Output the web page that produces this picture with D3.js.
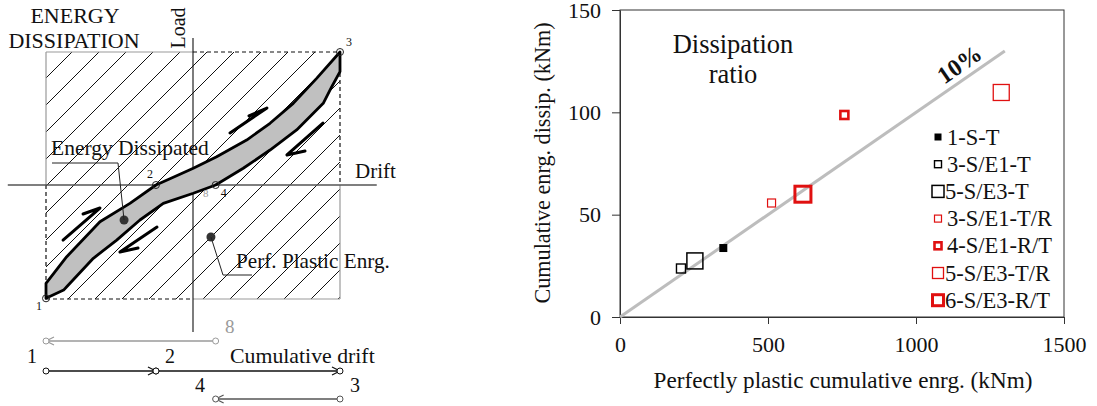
<!DOCTYPE html>
<html>
<head>
<meta charset="utf-8">
<script src="https://cdn.jsdelivr.net/npm/d3@7"></script>
<style>
  body { margin: 0; background: #fff; }
  svg text { font-family: "Liberation Serif", "Times New Roman", serif; fill: #111; }
</style>
</head>
<body>
<svg id="chart" width="1097" height="406"></svg>
<script>
// ---------- right chart: dissipated vs perfectly plastic energy ----------
const specimens = ["1-S-T", "3-S/E1-T", "5-S/E3-T", "3-S/E1-T/R", "4-S/E1-R/T", "5-S/E3-T/R", "6-S/E3-R/T"]
const plasticEnrg = [349, 206, 253, 512, 758, 1288, 618]
const dissipEnrg = [33.7, 23.7, 27.4, 55.7, 98.7, 109.7, 60]
const xTicks = [0, 500, 1000, 1500]
const yTicks = [0, 50, 100, 150]
const ratioLine = [[0, 0], [1300, 130]]   // 10% line

// ---------- left schematic: drift / load, normalised to the peaks ----------
const loadingBranch = [
  [-1, -0.852], [-1, -0.739], [-0.859, -0.539], [-0.633, -0.276], [-0.429, -0.138],
  [-0.252, 0], [-0.134, 0.058], [0.002, 0.126], [0.161, 0.213], [0.365, 0.338],
  [0.524, 0.464], [0.682, 0.614], [0.841, 0.802], [1, 1]
]
const unloadingBranch = [
  [1, 1], [1, 0.852], [0.944, 0.739], [0.886, 0.614], [0.705, 0.414], [0.524, 0.263],
  [0.342, 0.126], [0.154, 0], [0.002, -0.062], [-0.202, -0.138], [-0.361, -0.263],
  [-0.519, -0.414], [-0.678, -0.551], [-0.859, -0.765], [-0.88, -0.79], [-1, -0.852]
]
const peakDrift = [-1, 1]
const peakLoad = [-0.857, 1]
const loopPointNames = ["1", "2", "3", "4"]
const loopPointDrift = [-1, -0.252, 1, 0.154]
const loopPointLoad = [-0.852, 0, 1, 0]
// half-head arrows: tail, head, barb
const loopArrows = [
  [[0.252, 0.391], [0.503, 0.579], [0.381, 0.519]],
  [[0.884, 0.466], [0.639, 0.226], [0.762, 0.256]],
  [[-0.884, -0.414], [-0.633, -0.173], [-0.748, -0.218]],
  [[-0.245, -0.316], [-0.497, -0.504], [-0.374, -0.474]]
]
const dissipatedDot = [-0.469, -0.263]
const plasticDot = [0.122, -0.391]
// cumulative drift segments (from, to), one row each
const cumFrom = [0.154, -1, -0.252, 1]
const cumTo = [-1, -0.252, 1, 0.154]
const cumRow = [0, 1, 1, 2]

const svg = d3.select("#chart")

// ================= LEFT DIAGRAM =================
const xL = d3.scaleLinear().domain(peakDrift).range([46, 340])
const yL = d3.scaleLinear().domain(peakLoad).range([299, 52])

const defs = svg.append("defs")
defs.append("pattern").attr("id", "hatch")
    .attr("patternUnits", "userSpaceOnUse")
    .attr("x", 16).attr("y", 0).attr("width", 27).attr("height", 27)
  .append("path")
    .attr("d", "M0,27 L27,0 M-2,2 L2,-2 M25,29 L29,25")
    .attr("stroke", "#111").attr("stroke-width", 1)

const left = svg.append("g")

left.append("rect")
    .attr("x", xL(-1)).attr("y", yL(1))
    .attr("width", xL(1) - xL(-1)).attr("height", yL(-0.857) - yL(1))
    .attr("fill", "url(#hatch)")

// frame: solid grey parts, dashed projections of the peaks
const solid = [
  [[-1, 1], [0, 1]], [[-1, 1], [-1, 0]], [[1, 0], [1, -0.857]], [[0, -0.857], [1, -0.857]]
]
const dashed = [
  [[0, 1], [1, 1]], [[-1, 0], [-1, -0.857]], [[1, 1], [1, 0]], [[-1, -0.857], [0, -0.857]]
]
const lineL = d3.line().x(d => xL(d[0])).y(d => yL(d[1]))
left.selectAll(".solidEdge").data(solid).enter().append("path")
    .attr("d", lineL).attr("stroke", "#999").attr("stroke-width", 1.2).attr("fill", "none")
left.selectAll(".dashEdge").data(dashed).enter().append("path")
    .attr("d", lineL).attr("stroke", "#111").attr("stroke-width", 1.2)
    .attr("stroke-dasharray", "4,3").attr("fill", "none")

// axes of the schematic
left.append("path").attr("d", lineL([[-1.26, 0], [1.25, 0]]))
    .attr("stroke", "#555").attr("stroke-width", 1.3)
left.append("path").attr("d", lineL([[0, 1.105], [0, -1.105]]))
    .attr("stroke", "#111").attr("stroke-width", 1.1)

// hysteresis loop
const loop = loadingBranch.concat(unloadingBranch.slice(1))
left.append("path").attr("d", lineL(loop) + "Z")
    .attr("fill", "#c0c0c0").attr("stroke", "#000").attr("stroke-width", 2.8)
    .attr("stroke-linejoin", "round")

left.selectAll(".loopArrow").data(loopArrows).enter().append("path")
    .attr("d", lineL).attr("fill", "none").attr("stroke", "#000")
    .attr("stroke-width", 3).attr("stroke-linejoin", "round").attr("stroke-linecap", "round")

left.selectAll(".pt").data(loopPointNames).enter().append("circle")
    .attr("cx", (d, i) => xL(loopPointDrift[i])).attr("cy", (d, i) => yL(loopPointLoad[i]))
    .attr("r", 3.5).attr("fill", "none").attr("stroke", "#222").attr("stroke-width", 1)

const ptOffset = [[-10, 12], [-9, -7], [6, -6], [5, 12]]
left.selectAll(".ptLabel").data(loopPointNames).enter().append("text")
    .attr("x", (d, i) => xL(loopPointDrift[i]) + ptOffset[i][0])
    .attr("y", (d, i) => yL(loopPointLoad[i]) + ptOffset[i][1])
    .attr("font-size", 12).text(d => d)
left.append("text").attr("x", 203).attr("y", 197).attr("font-size", 11)
    .style("fill", "#999").text("8")

// annotations
left.append("circle").attr("cx", xL(dissipatedDot[0])).attr("cy", yL(dissipatedDot[1]))
    .attr("r", 4.5).attr("fill", "#333")
left.append("path")
    .attr("d", `M${xL(dissipatedDot[0])},${yL(dissipatedDot[1])} L118,163 L52,163`)
    .attr("fill", "none").attr("stroke", "#222").attr("stroke-width", 1)
left.append("text").attr("x", 51).attr("y", 155).attr("font-size", 21.5).text("Energy Dissipated")

left.append("circle").attr("cx", xL(plasticDot[0])).attr("cy", yL(plasticDot[1]))
    .attr("r", 4.5).attr("fill", "#333")
left.append("path")
    .attr("d", `M${xL(plasticDot[0])},${yL(plasticDot[1])} L223,275 L252,275`)
    .attr("fill", "none").attr("stroke", "#222").attr("stroke-width", 1)
left.append("text").attr("x", 236).attr("y", 268).attr("font-size", 21.2).text("Perf. Plastic Enrg.")

left.append("text").attr("x", 75).attr("y", 23).attr("text-anchor", "middle")
    .attr("font-size", 22).text("ENERGY")
left.append("text").attr("x", 74).attr("y", 48).attr("text-anchor", "middle")
    .attr("font-size", 22).text("DISSIPATION")
left.append("text").attr("transform", "translate(185,28) rotate(-90)")
    .attr("text-anchor", "middle").attr("font-size", 20).text("Load")
left.append("text").attr("x", 355).attr("y", 178).attr("font-size", 21).text("Drift")

// cumulative drift rows
const rowY = [341, 371, 399]
const rowColor = ["#9a9a9a", "#111", "#555"]
const cum = left.selectAll(".cum").data(cumFrom).enter().append("g")
cum.append("line")
    .attr("x1", (d, i) => xL(cumFrom[i])).attr("x2", (d, i) => xL(cumTo[i]))
    .attr("y1", (d, i) => rowY[cumRow[i]]).attr("y2", (d, i) => rowY[cumRow[i]])
    .attr("stroke", (d, i) => rowColor[cumRow[i]]).attr("stroke-width", 1.3)
cum.append("path")
    .attr("d", (d, i) => {
      const x = xL(cumTo[i]), y = rowY[cumRow[i]], s = cumTo[i] > cumFrom[i] ? -1 : 1
      return `M${x + s * 8},${y - 4} L${x},${y} L${x + s * 8},${y + 4}`
    })
    .attr("fill", "none").attr("stroke", (d, i) => rowColor[cumRow[i]]).attr("stroke-width", 1.2)
cum.selectAll("circle").data((d, i) => [[cumFrom[i], i], [cumTo[i], i]]).enter().append("circle")
    .attr("cx", d => xL(d[0])).attr("cy", d => rowY[cumRow[d[1]]])
    .attr("r", 3).attr("fill", "#fff")
    .attr("stroke", d => rowColor[cumRow[d[1]]]).attr("stroke-width", 1)

left.append("text").attr("x", 225).attr("y", 333).attr("font-size", 19)
    .style("fill", "#9a9a9a").text("8")
left.append("text").attr("x", 27).attr("y", 363).attr("font-size", 20).text("1")
left.append("text").attr("x", 165).attr("y", 363).attr("font-size", 20).text("2")
left.append("text").attr("x", 230).attr("y", 363).attr("font-size", 21.8).text("Cumulative drift")
left.append("text").attr("x", 195).attr("y", 392).attr("font-size", 20).text("4")
left.append("text").attr("x", 350).attr("y", 392).attr("font-size", 20).text("3")

// ================= RIGHT CHART =================
const x = d3.scaleLinear().domain([0, 1500]).range([620, 1064])
const y = d3.scaleLinear().domain([0, 150]).range([317, 10])

const markerColor = ["#000", "#000", "#000", "#e01010", "#e01010", "#e01010", "#e01010"]
const markerFilled = [true, false, false, false, false, false, false]
const markerSize = [8, 9, 16, 8, 8, 16, 16]
const markerStroke = [0, 1.4, 1.5, 1.2, 2.6, 1.3, 3]
const legendSize = [7, 7, 12, 7, 7, 11, 11]

const right = svg.append("g")

right.append("rect").attr("x", x(0)).attr("y", y(150))
    .attr("width", x(1500) - x(0)).attr("height", y(0) - y(150))
    .attr("fill", "none").attr("stroke", "#333").attr("stroke-width", 1)

const xAxis = right.append("g").attr("transform", `translate(0,${y(0)})`)
    .call(d3.axisBottom(x).tickValues(xTicks).tickFormat(d3.format("d"))
      .tickSize(7).tickSizeOuter(0).tickPadding(12))
const yAxis = right.append("g").attr("transform", `translate(${x(0)},0)`)
    .call(d3.axisLeft(y).tickValues(yTicks).tickFormat(d3.format("d"))
      .tickSize(8).tickSizeOuter(0).tickPadding(11))
;[xAxis, yAxis].forEach(a => {
  a.select(".domain").attr("stroke", "#333")
  a.selectAll(".tick line").attr("stroke", "#333")
  a.selectAll(".tick text").attr("font-size", 22)
      .attr("font-family", "Liberation Serif, serif").style("fill", "#111")
})

right.append("path")
    .attr("d", d3.line().x(d => x(d[0])).y(d => y(d[1]))(ratioLine))
    .attr("stroke", "#bdbdbd").attr("stroke-width", 3).attr("fill", "none")

right.selectAll(".pt").data(specimens).enter().append("rect")
    .attr("x", (d, i) => x(plasticEnrg[i]) - markerSize[i] / 2)
    .attr("y", (d, i) => y(dissipEnrg[i]) - markerSize[i] / 2)
    .attr("width", (d, i) => markerSize[i]).attr("height", (d, i) => markerSize[i])
    .attr("fill", (d, i) => markerFilled[i] ? markerColor[i] : "none")
    .attr("stroke", (d, i) => markerColor[i])
    .attr("stroke-width", (d, i) => markerStroke[i])

// legend
const legend = right.append("g")
legend.selectAll("rect").data(specimens).enter().append("rect")
    .attr("x", (d, i) => 938 - legendSize[i] / 2)
    .attr("y", (d, i) => 137 + i * 27.2 - legendSize[i] / 2)
    .attr("width", (d, i) => legendSize[i]).attr("height", (d, i) => legendSize[i])
    .attr("fill", (d, i) => markerFilled[i] ? markerColor[i] : "none")
    .attr("stroke", (d, i) => markerColor[i])
    .attr("stroke-width", (d, i) => markerStroke[i])
legend.selectAll("text").data(specimens).enter().append("text")
    .attr("x", (d, i) => legendSize[i] > 9 ? 945 : 947)
    .attr("y", (d, i) => 137 + i * 27.2 + 7.5)
    .attr("font-size", 22.5).text(d => d)

right.append("text").attr("x", 733).attr("y", 53).attr("text-anchor", "middle")
    .attr("font-size", 26.5).text("Dissipation")
right.append("text").attr("x", 733).attr("y", 83).attr("text-anchor", "middle")
    .attr("font-size", 26.5).text("ratio")

const angle = Math.atan2(y(ratioLine[1][1]) - y(0), x(ratioLine[1][0]) - x(0)) * 180 / Math.PI
right.append("text").attr("transform", `translate(964,71) rotate(${angle})`)
    .attr("text-anchor", "middle").attr("font-size", 24).attr("font-weight", "bold").text("10%")

right.append("text").attr("x", 843).attr("y", 388).attr("text-anchor", "middle")
    .attr("font-size", 23.2).text("Perfectly plastic cumulative enrg. (kNm)")
right.append("text").attr("transform", "translate(550,163) rotate(-90)")
    .attr("text-anchor", "middle").attr("font-size", 22.2).text("Cumulative enrg. dissip. (kNm)")
</script>
</body>
</html>
